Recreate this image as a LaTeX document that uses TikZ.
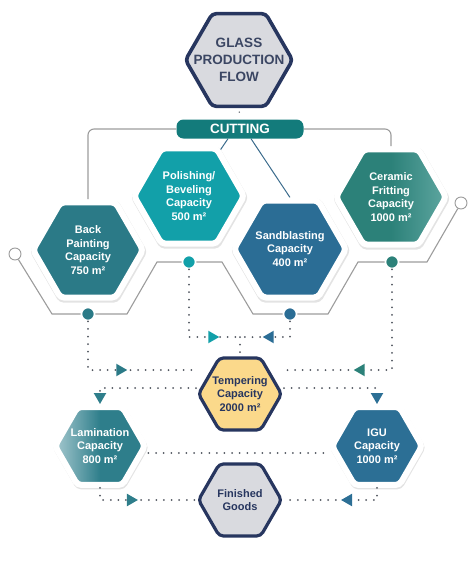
\documentclass[tikz,border=0pt]{standalone}
\usepackage{fontspec}
\setmainfont{Liberation Sans}
\usetikzlibrary{shapes.geometric,arrows.meta,decorations.markings,shadows,backgrounds}

\definecolor{navy}{HTML}{27365F}
\definecolor{glasstext}{HTML}{3B4663}
\definecolor{hexgray}{HTML}{D9DADF}
\definecolor{cuttingteal}{HTML}{137B7B}
\definecolor{backteal}{HTML}{2B7A87}
\definecolor{polishteal}{HTML}{12A0A9}
\definecolor{sandblue}{HTML}{2B6D95}
\definecolor{fritgreen}{HTML}{2C8179}
\definecolor{fritlight}{HTML}{5EA6A0}
\definecolor{tempgold}{HTML}{FBD98B}
\definecolor{lamteal}{HTML}{2E7E8B}
\definecolor{lamlight}{HTML}{A5C8CE}
\definecolor{igublue}{HTML}{2C6F95}
\definecolor{railgray}{HTML}{9C9C9C}
\definecolor{dotgray}{HTML}{50565F}
\definecolor{linkblue}{HTML}{3B6B8C}

\tikzset{
  hexcell/.style={regular polygon,regular polygon sides=6,minimum size=#1,inner sep=0pt,rounded corners=4pt},
  rimhex/.style={hexcell=#1,draw=white,line width=6pt,
    drop shadow={opacity=0.22,shadow xshift=0.6pt,shadow yshift=-1.5pt,shadow scale=1.07}},
  corehex/.style={hexcell=#1,draw=navy,line width=3.2pt},
  hexlabel/.style={font=\bfseries\fontsize{11}{13.6}\selectfont,text=white,align=center},
  darklabel/.style={hexlabel,text=navy},
  railknob/.style={circle,fill=#1,draw=white,line width=1.6pt,minimum size=13pt,inner sep=0pt},
  railend/.style={circle,fill=white,draw=railgray,line width=0.9pt,minimum size=12pt,inner sep=0pt},
  rail/.style={draw=railgray,line width=1.1pt},
  flow/.style={draw=dotgray,line width=2pt,line cap=round,dash pattern=on 0pt off 7.6pt},
  midtip/.style 2 args={decoration={markings,
    mark=at position #1 with {\arrow{Triangle[length=11pt,width=12pt,color=#2]}}},postaction={decorate}},
}

\begin{document}
\begin{tikzpicture}[x=1pt,y=-1pt]
  \useasboundingbox (0,0) rectangle (474,571);

  \node[corehex=107,fill=hexgray,line width=3.6pt,
    label={[hexlabel,text=glasstext,font=\bfseries\fontsize{13.5}{17}\selectfont]center:GLASS\\PRODUCTION\\FLOW}] (glass) at (239,60) {};
  \node[fill=cuttingteal,rounded corners=7pt,minimum width=127pt,minimum height=19pt,
    text=white,font=\bfseries\fontsize{13.5}{16}\selectfont] (cutting) at (240,129) {CUTTING};

  % first row of stations
  \node[rimhex=110,fill=backteal,label={[hexlabel]center:Back\\Painting\\Capacity\\750 m²}] (bp) at (88,250) {};
  \node[rimhex=110,fill=polishteal,label={[hexlabel]center:Polishing/\\Beveling\\Capacity\\500 m²}] (pb) at (189,196) {};
  \node[rimhex=112,fill=sandblue,label={[hexlabel]center:Sandblasting\\Capacity\\400 m²}] (sb) at (290,249) {};
  \node[rimhex=110,left color=fritgreen,right color=fritlight,middle color=fritgreen,
    label={[hexlabel]center:Ceramic\\Fritting\\Capacity\\1000 m²}] (cf) at (391,197) {};

  \node[corehex=83,fill=tempgold,label={[darklabel]center:Tempering\\Capacity\\2000 m²}] (temp) at (240,394) {};
  \node[rimhex=90,left color=lamlight,right color=lamteal,middle color=lamteal,
    label={[hexlabel]center:Lamination\\Capacity\\800 m²}] (lam) at (100,446) {};
  \node[rimhex=90,fill=igublue,label={[hexlabel]center:IGU\\Capacity\\1000 m²}] (igu) at (377,446) {};
  \node[corehex=83,fill=hexgray,label={[darklabel]center:Finished\\Goods}] (fin) at (240,500) {};

  \begin{scope}[on background layer]
    \draw[flow,line width=1.5pt,dash phase=3.6pt] (glass.south) -- (cutting.north);
    \draw[rail,rounded corners=6pt] (cutting.west) -| (bp.north);
    \draw[rail,rounded corners=6pt] (cutting.east) -| (cf.north);
    \draw[linkblue,line width=1pt] ([xshift=-12pt]cutting.south) -- (pb.center);
    \draw[linkblue,line width=1pt] ([xshift=11pt]cutting.south) -- (sb.north);
  \end{scope}

  % rail under the first row
  \node[railend] (railL) at (15,254) {};
  \node[railend] (railR) at (461,203) {};
  \node[railknob=backteal] (bpknob) at (88,314) {};
  \node[railknob=polishteal] (pbknob) at (189,262) {};
  \node[railknob=sandblue] (sbknob) at (290,314) {};
  \node[railknob=fritgreen] (cfknob) at (392,262) {};
  \draw[rail] (railL) -- (52,314) -- (bpknob) -- (127,314) -- (157,262) -- (pbknob) -- (222,262)
    -- (253,314) -- (sbknob) -- (328,314) -- (358,262) -- (cfknob) -- (427,262) -- (railR);

  \coordinate (meet) at (240,337);
  \coordinate (tempL1) at (196,370);
  \coordinate (tempR1) at (284,370);
  \coordinate (tempL2) at (196,388);
  \coordinate (tempR2) at (284,388);
  \coordinate (finL) at (196,500);
  \coordinate (finR) at (284,500);

  \draw[flow,midtip={88pt}{backteal}] (bpknob) |- (tempL1);
  \draw[flow,midtip={98pt}{polishteal}] (pbknob) |- (meet);
  \draw[flow,midtip={43pt}{sandblue}] (sbknob) |- (meet);
  \draw[flow,midtip={139pt}{fritgreen}] (cfknob) |- (tempR1);
  \draw[flow] (meet) -- (temp.north);

  \draw[flow,-{Triangle[length=11pt,width=12pt,color=lamteal]}] (tempL2) -| (lam.north);
  \draw[flow,-{Triangle[length=11pt,width=12pt,color=igublue]}] (tempR2) -| (igu.north);
  \draw[flow] ([yshift=-7pt]lam.east) -- ([yshift=-7pt]igu.west);

  \draw[flow,midtip={50pt}{lamteal}] (lam.south) |- (finL);
  \draw[flow,midtip={48pt}{igublue}] (igu.south) |- (finR);
\end{tikzpicture}
\end{document}
